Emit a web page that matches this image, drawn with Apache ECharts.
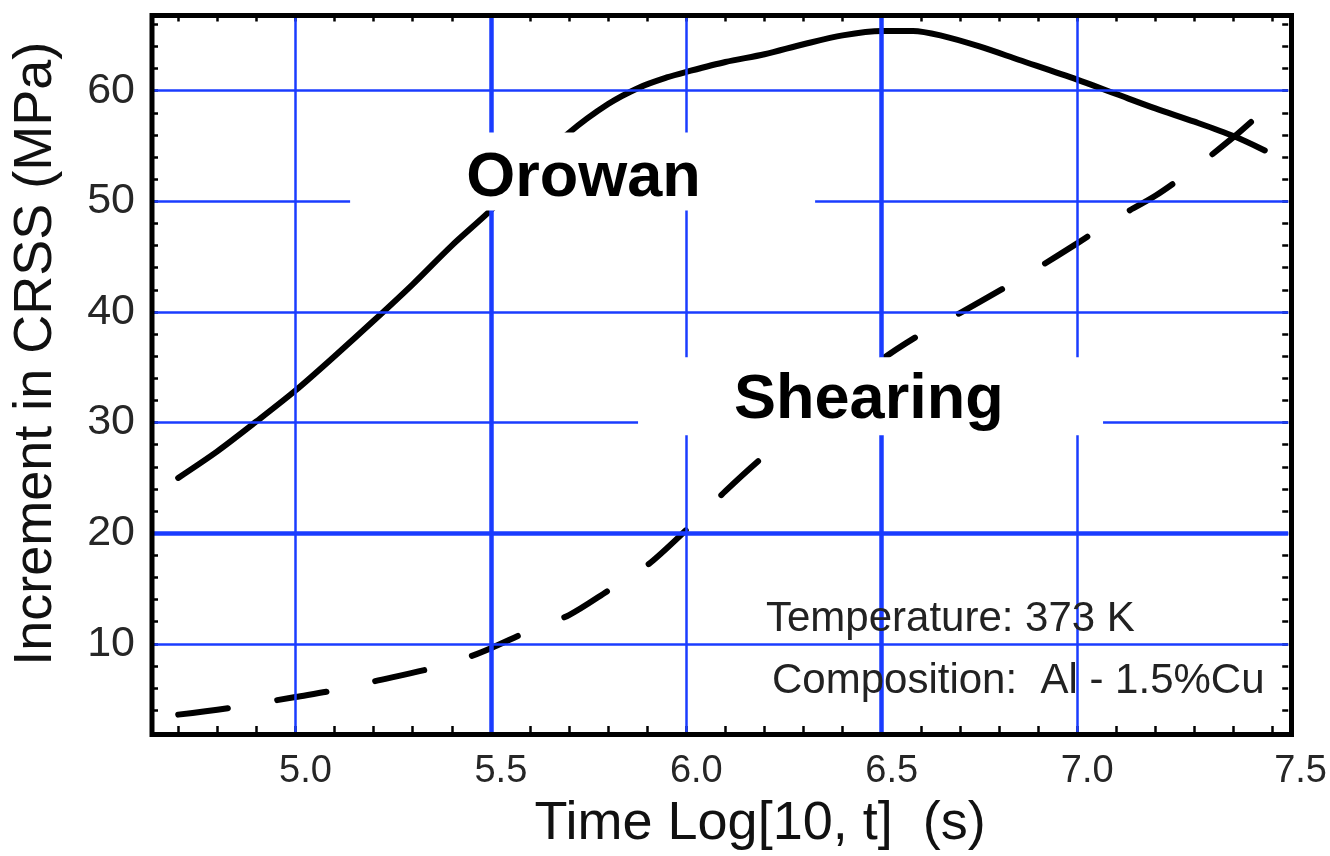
<!DOCTYPE html>
<html>
<head>
<meta charset="utf-8">
<title>Increment in CRSS vs ageing time</title>
<script src="https://cdn.jsdelivr.net/npm/echarts@6/dist/echarts.min.js"></script>
<style>
  html, body { margin: 0; padding: 0; background: #ffffff; }
  #chart { width: 1330px; height: 856px; }
</style>
</head>
<body>
<div id="chart"></div>
<script>
// Tick values (log10 of time in s, and CRSS increment in MPa)
const xTickLabels = [5.0, 5.5, 6.0, 6.5, 7.0, 7.5];
const yTickLabels = [10, 20, 30, 40, 50, 60];
const xMinorTicks = [4.7, 4.8, 4.9, 5.0, 5.1, 5.2, 5.3, 5.4, 5.5, 5.6, 5.7, 5.8, 5.9, 6.0,
                     6.1, 6.2, 6.3, 6.4, 6.5, 6.6, 6.7, 6.8, 6.9, 7.0, 7.1, 7.2, 7.3, 7.4, 7.5];
const yMinorTicks = [4, 6, 8, 10, 12, 14, 16, 18, 20, 22, 24, 26, 28, 30, 32, 34, 36,
                     38, 40, 42, 44, 46, 48, 50, 52, 54, 56, 58, 60, 62, 64, 66];
const xGridValues = [5.0, 5.5, 6.0, 6.5, 7.0];
const yGridValues = [10, 20, 30, 40, 50, 60];

// Orowan (bypass) strengthening contribution
const orowanLogT = [4.70, 4.80, 4.90, 5.00, 5.10, 5.20, 5.30, 5.40, 5.50, 5.60, 5.70, 5.80,
                    5.88, 5.95, 6.00, 6.10, 6.20, 6.30, 6.40, 6.50, 6.58, 6.65, 6.75, 6.85,
                    7.00, 7.10, 7.20, 7.30, 7.40, 7.48];
const orowanCRSS = [25.0, 27.4, 30.1, 32.9, 36.0, 39.2, 42.5, 46.0, 49.2, 52.8, 56.2, 58.8,
                    60.3, 61.2, 61.7, 62.6, 63.3, 64.2, 65.0, 65.4, 65.4, 65.0, 64.0, 62.8,
                    61.0, 59.7, 58.4, 57.2, 55.9, 54.6];

// Particle shearing strengthening contribution
const shearLogT = [4.70, 4.85, 5.00, 5.10, 5.20, 5.35, 5.45, 5.50, 5.60, 5.70, 5.80, 5.90,
                   6.00, 6.10, 6.20, 6.30, 6.40, 6.50, 6.60, 6.70, 6.80, 6.90, 7.00, 7.10,
                   7.20, 7.30, 7.40, 7.455];
const shearCRSS = [3.6, 4.3, 5.2, 5.8, 6.6, 7.8, 8.9, 9.6, 11.2, 12.6, 14.8, 17.1,
                   20.3, 23.8, 27.0, 29.8, 32.8, 35.7, 38.0, 39.9, 41.9, 44.0, 46.2, 48.5,
                   50.5, 53.0, 55.8, 57.5];

const curveNames = ['Orowan', 'Shearing'];
const notes = ['Temperature: 373 K', 'Composition:  Al - 1.5%Cu'];
const xTitle = 'Time Log[10, t]  (s)';
const yTitle = 'Increment in CRSS (MPa)';

const FONT = '"Liberation Sans", Arial, Helvetica, sans-serif';
const GRID_BLUE = '#1a3cff';
const X_MIN = 4.633, X_MAX = 7.54;
const Y_MIN = 2.03, Y_MAX = 66.8;

const zip = (xs, ys) => xs.map((x, i) => [x, ys[i]]);
const heavyX = new Set([5.5, 6.5]);
const heavyY = new Set([20]);

const gridLines = [
  ...xGridValues.map(v => ({ xAxis: v, lineStyle: { color: GRID_BLUE, width: heavyX.has(v) ? 4.5 : 2.5, type: 'solid' } })),
  ...yGridValues.map(v => ({ yAxis: v, lineStyle: { color: GRID_BLUE, width: heavyY.has(v) ? 4.5 : 2.5, type: 'solid' } }))
];

const tickStyle = { show: true, inside: true, length: 6, lineStyle: { color: '#000', width: 2.5 } };

// invisible anchor points used only to carry labels
const anchorSeries = (z, data, label) => ({
  type: 'scatter', z, silent: true,
  symbolSize: 2, itemStyle: { color: 'rgba(255,255,255,0)', opacity: 1 },
  labelLayout: { hideOverlap: false },
  data, label: Object.assign({ show: true, position: 'inside', align: 'center', verticalAlign: 'middle' }, label)
});

const chart = echarts.init(document.getElementById('chart'), null, { renderer: 'canvas' });

chart.setOption({
  animation: false,
  backgroundColor: '#ffffff',
  grid: { left: 152, right: 38.5, top: 15.5, bottom: 121.5 },
  xAxis: [
    {
      type: 'value', min: X_MIN, max: X_MAX, position: 'bottom',
      axisLine: { show: false }, splitLine: { show: false },
      axisTick: Object.assign({ customValues: xMinorTicks }, tickStyle),
      axisLabel: {
        customValues: xTickLabels,
        formatter: v => (Math.abs(v - 7.5) < 1e-9 ? '{edge|7.5}' : v.toFixed(1)),
        fontFamily: FONT, fontSize: 38, color: '#262626', margin: 21,
        padding: [0, 0, 0, 20],
        rich: { edge: { fontFamily: FONT, fontSize: 38, color: '#262626', padding: [0, 0, 0, 36] } }
      },
      name: xTitle, nameLocation: 'middle', nameGap: 65,
      nameTextStyle: { fontFamily: FONT, fontSize: 54, color: '#111', padding: [0, 0, 0, 80] }
    },
    {
      type: 'value', min: X_MIN, max: X_MAX, position: 'top',
      axisLine: { show: false }, splitLine: { show: false }, axisLabel: { show: false },
      axisTick: Object.assign({ customValues: xMinorTicks }, tickStyle)
    }
  ],
  yAxis: [
    {
      type: 'value', min: Y_MIN, max: Y_MAX, position: 'left',
      axisLine: { show: false }, splitLine: { show: false },
      axisTick: Object.assign({ customValues: yMinorTicks }, tickStyle),
      axisLabel: {
        customValues: yTickLabels, formatter: v => String(Math.round(v)),
        fontFamily: FONT, fontSize: 43, color: '#262626', margin: 17, padding: [6, 0, 0, 0]
      },
      name: yTitle, nameLocation: 'middle', nameGap: 89, nameRotate: 90,
      nameTextStyle: { fontFamily: FONT, fontSize: 54, color: '#111', padding: [0, 0, 0, 40] }
    },
    {
      type: 'value', min: Y_MIN, max: Y_MAX, position: 'right',
      axisLine: { show: false }, splitLine: { show: false }, axisLabel: { show: false },
      axisTick: Object.assign({ customValues: yMinorTicks }, tickStyle)
    }
  ],
  series: [
    {
      // blue coordinate grid
      type: 'line', data: [], z: 1, silent: true,
      markLine: { silent: true, symbol: ['none', 'none'], label: { show: false }, animation: false, data: gridLines }
    },
    {
      name: curveNames[0], type: 'line', z: 3,
      data: zip(orowanLogT, orowanCRSS),
      smooth: 0.3, symbol: 'none', showSymbol: false,
      lineStyle: { color: '#000', width: 6, cap: 'round', join: 'round' }
    },
    {
      name: curveNames[1], type: 'line', z: 3,
      data: zip(shearLogT, shearCRSS),
      smooth: 0.3, symbol: 'none', showSymbol: false,
      lineStyle: { color: '#000', width: 6, type: [50, 50], cap: 'round', join: 'round' }
    },
    // white boxes behind the curve captions
    anchorSeries(10,
      [{ value: [5.7347, 52.70] }, { value: [6.4714, 32.39] }],
      { formatter: ' ', backgroundColor: '#ffffff', width: 465, height: 78, lineHeight: 78, fontSize: 10 }
    ),
    // curve captions
    anchorSeries(11,
      [{ name: curveNames[0], value: [5.737, 52.03] }, { name: curveNames[1], value: [6.467, 31.95] }],
      { formatter: '{b}', fontFamily: FONT, fontWeight: 'bold', fontSize: 63, lineHeight: 63, color: '#000' }
    )
  ],
  graphic: [
    {
      type: 'rect', z: 100, silent: true,
      shape: { x: 152, y: 15.5, width: 1139.5, height: 719 },
      style: { fill: 'none', stroke: '#000', lineWidth: 5 }
    },
    {
      type: 'text', z: 50, x: 766, y: 619, silent: true,
      style: { text: notes[0], font: '42px ' + FONT, fill: '#222', verticalAlign: 'middle' }
    },
    {
      type: 'text', z: 50, x: 772, y: 681, silent: true,
      style: { text: notes[1], font: '42px ' + FONT, fill: '#222', verticalAlign: 'middle' }
    }
  ]
});
</script>
</body>
</html>
